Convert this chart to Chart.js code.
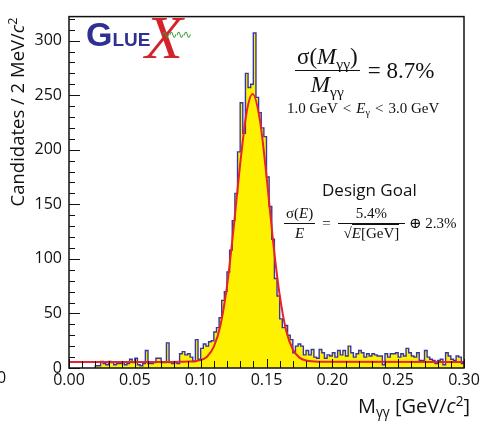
<!DOCTYPE html>
<html><head><meta charset="utf-8">
<script src="https://cdn.jsdelivr.net/npm/chart.js@4/dist/chart.umd.min.js"></script>
<style>
html,body{margin:0;padding:0;background:#fff;}
#wrap{position:relative;width:483px;height:421px;overflow:hidden;background:#fff;}
#c{position:absolute;left:0;top:0;}
.t{position:absolute;white-space:nowrap;color:#111;line-height:1.1;}
.sans{font-family:'Open Sans',sans-serif;}
.serif{font-family:'Liberation Serif','DejaVu Serif',serif;}
.frac{display:inline-flex;flex-direction:column;align-items:center;vertical-align:middle;}
.frac .num{border-bottom:1px solid #111;padding:0 2px 1px 2px;}
.frac .den{padding:1px 2px 0 2px;}
sub{font-size:0.68em;vertical-align:-0.3em;line-height:0;}
sup{font-size:0.68em;vertical-align:0.55em;line-height:0;}
.rel{margin:0 5px;}
</style></head><body>
<div id="wrap">
<canvas id="c" width="483" height="421"></canvas>

<div class="t sans" style="left:17px;top:112px;font-size:18.5px;transform:translate(-50%,-50%) rotate(-90deg);">Candidates / 2 MeV/<i>c</i><sup>2</sup></div>
<div class="t sans" style="right:13px;top:395px;font-size:20px;">M<sub>γγ</sub> [GeV/<i>c</i><sup>2</sup>]</div>
<div class="t sans" style="left:-3px;top:369px;font-size:16px;">0</div>

<div class="t" style="left:86px;top:16px;font-family:'Liberation Sans',sans-serif;font-weight:bold;color:#2e3192;">
  <span style="font-size:34px;">G</span><span style="font-size:19px;">LUE</span>
</div>
<div class="t serif" style="left:145px;top:3px;font-size:62px;font-style:italic;color:#d2232a;">X</div>
<div class="t" style="left:161px;top:29px;font-size:11px;color:#3b9b3b;font-family:'DejaVu Sans',sans-serif;letter-spacing:-2px;">∿∿∿∿</div>

<div class="t serif" style="left:295px;top:44px;font-size:23px;display:flex;align-items:center;">
  <span class="frac"><span class="num">σ(<i>M</i><sub>γγ</sub>)</span><span class="den"><i>M</i><sub>γγ</sub></span></span>
  <span style="margin-left:8px;">= 8.7%</span>
</div>
<div class="t serif" style="left:287px;top:100px;font-size:15px;">1.0 GeV<span class="rel">&lt;</span><i>E</i><sub>γ</sub><span class="rel">&lt;</span>3.0 GeV</div>

<div class="t sans" style="left:322px;top:181px;font-size:17px;">Design Goal</div>
<div class="t serif" style="left:284px;top:205px;font-size:15px;display:flex;align-items:center;">
  <span class="frac"><span class="num">σ(<i>E</i>)</span><span class="den"><i>E</i></span></span>
  <span style="margin:0 7px;">=</span>
  <span class="frac"><span class="num" style="padding:0 18px 1px 18px;">5.4%</span><span class="den">√<span style="border-top:1px solid #111;"><i>E</i>[GeV]</span></span></span>
  <span style="margin-left:4px;">⊕ 2.3%</span>
</div>
</div>

<script>
// histogram: 150 bins of 2 MeV from 0 to 0.30 GeV
const binWidth = 0.002;
const counts = [
  0, 0, 0, 0, 0, 0, 0, 0, 0, 0,
  2, 2, 6, 4, 3, 6, 5, 3, 4, 4,
  5, 3, 4, 8, 5, 9, 3, 2, 4, 16,
  4, 4, 5, 9, 9, 5, 5, 23, 5, 4,
  5, 4, 13, 15, 12, 13, 10, 6, 26, 8,
  18, 22, 20, 24, 25, 33, 37, 46, 62, 70,
  88, 108, 135, 160, 198, 243, 215, 270, 257, 260,
  307, 248, 234, 220, 212, 175, 148, 118, 82, 66,
  45, 37, 39, 30, 26, 14, 20, 22, 20, 12,
  16, 12, 17, 10, 9, 17, 14, 9, 12, 11,
  14, 10, 16, 12, 16, 11, 20, 14, 10, 13,
  16, 14, 10, 13, 11, 13, 12, 11, 11, 3,
  13, 10, 13, 13, 14, 10, 13, 11, 18, 14,
  11, 10, 14, 7, 7, 16, 10, 8, 7, 4,
  7, 8, 3, 14, 11, 8, 7, 11, 10, 4
];
// fit curve
const fitX = [0.0, 0.06, 0.085, 0.095, 0.100, 0.105, 0.110, 0.115, 0.120, 0.125, 0.130, 0.135, 0.1395, 0.145, 0.150, 0.155, 0.160, 0.165, 0.170, 0.175, 0.180, 0.190, 0.300];
const fitY = [5.6, 5.6, 5.8, 6.2, 7.2, 10.5, 19.5, 39, 75, 128, 187, 235, 251, 227, 176, 116, 67, 34, 17, 9.5, 6.8, 5.8, 5.6];
// axes
const xTickValues = [0, 0.05, 0.10, 0.15, 0.20, 0.25, 0.30];
const xTickLabels = ['0.00', '0.05', '0.10', '0.15', '0.20', '0.25', '0.30'];
const yTickValues = [0, 50, 100, 150, 200, 250, 300];
const yTickLabels = ['0', '50', '100', '150', '200', '250', '300'];
const xRange = [0, 0.30];
const yRange = [0, 322];
const xMinorStep = 0.01;
const yMinorStep = 10;

const firstBin = counts.findIndex(c => c > 0);
const histPoints = [{x: firstBin * binWidth, y: 0}];
for (let i = firstBin; i < counts.length; i++) histPoints.push({x: i * binWidth, y: counts[i]});
histPoints.push({x: counts.length * binWidth, y: counts[counts.length - 1]});
const fitPoints = fitX.map((x, i) => ({x, y: fitY[i]}));

const framePlugin = {
  id: 'frame',
  afterDatasetsDraw(chart) {
    const {ctx, chartArea: a, scales: {x, y}} = chart;
    ctx.save();
    ctx.strokeStyle = '#111';
    ctx.lineWidth = 1;
    ctx.beginPath();
    const nx = Math.round((xRange[1] - xRange[0]) / xMinorStep);
    for (let k = 0; k <= nx; k++) {
      const px = Math.round(x.getPixelForValue(xRange[0] + k * xMinorStep)) + 0.5;
      const len = (k % 5 === 0) ? 9 : 7;
      ctx.moveTo(px, a.bottom); ctx.lineTo(px, a.bottom - len);
    }
    for (let k = 0; yRange[0] + k * yMinorStep <= yRange[1]; k++) {
      const py = Math.round(y.getPixelForValue(yRange[0] + k * yMinorStep)) + 0.5;
      const len = (k % 5 === 0) ? 11 : 6;
      ctx.moveTo(a.left, py); ctx.lineTo(a.left + len, py);
    }
    ctx.stroke();
    ctx.lineWidth = 1.5;
    ctx.strokeRect(a.left, a.top, a.right - a.left, a.bottom - a.top);
    ctx.restore();
  }
};

new Chart(document.getElementById('c'), {
  type: 'line',
  data: {
    datasets: [
      {data: histPoints, stepped: 'before', borderColor: '#3636a6', borderWidth: 1.4,
       backgroundColor: '#fff200', fill: 'origin', pointRadius: 0, order: 2},
      {data: fitPoints, borderColor: '#e8232b', borderWidth: 2, pointRadius: 0, fill: false,
       cubicInterpolationMode: 'monotone', order: 1}
    ]
  },
  options: {
    responsive: false,
    animation: false,
    layout: {padding: {top: 10, right: 19, left: 0, bottom: 0}},
    plugins: {legend: {display: false}, tooltip: {enabled: false}},
    scales: {
      x: {
        type: 'linear', min: xRange[0], max: xRange[1],
        grid: {display: false, drawTicks: false}, border: {display: false},
        afterFit(s) { s.height = 53; },
        afterBuildTicks(s) { s.ticks = xTickValues.map(v => ({value: v})); },
        ticks: {callback: (v, i) => xTickLabels[i], padding: 3, maxRotation: 0, autoSkip: false,
                font: {family: 'Open Sans', size: 16}, color: '#111'}
      },
      y: {
        type: 'linear', min: yRange[0], max: yRange[1],
        grid: {display: false, drawTicks: false}, border: {display: false},
        afterFit(s) { s.width = 69; },
        afterBuildTicks(s) { s.ticks = yTickValues.map(v => ({value: v})); },
        ticks: {callback: (v, i) => yTickLabels[i], padding: 7, autoSkip: false,
                font: {family: 'Open Sans', size: 16}, color: '#111'}
      }
    }
  },
  plugins: [framePlugin]
});
</script>
</body></html>
